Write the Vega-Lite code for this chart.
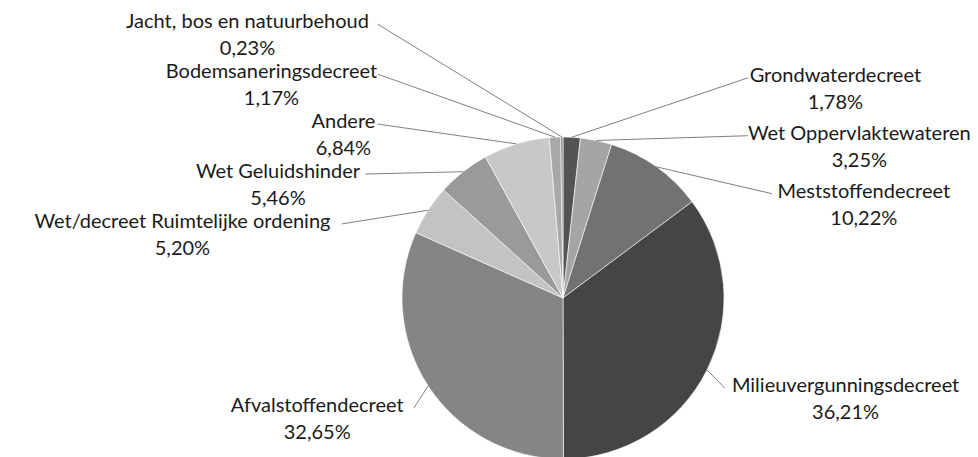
{
  "$schema": "https://vega.github.io/schema/vega-lite/v6.json",
  "width": 978,
  "height": 457,
  "autosize": {"type": "none"},
  "padding": 0,
  "background": "white",
  "config": {"view": {"stroke": null}},
  "data": {
    "values": [
      {"idx": 1, "category": "Grondwaterdecreet", "value": 1.78},
      {"idx": 2, "category": "Wet Oppervlaktewateren", "value": 3.25},
      {"idx": 3, "category": "Meststoffendecreet", "value": 10.22},
      {"idx": 4, "category": "Milieuvergunningsdecreet", "value": 36.21},
      {"idx": 5, "category": "Afvalstoffendecreet", "value": 32.65},
      {"idx": 6, "category": "Wet/decreet Ruimtelijke ordening", "value": 5.20},
      {"idx": 7, "category": "Wet Geluidshinder", "value": 5.46},
      {"idx": 8, "category": "Andere", "value": 6.84},
      {"idx": 9, "category": "Bodemsaneringsdecreet", "value": 1.17},
      {"idx": 10, "category": "Jacht, bos en natuurbehoud", "value": 0.23}
    ]
  },
  "transform": [
    {"joinaggregate": [{"op": "sum", "field": "value", "as": "total"}]},
    {"window": [{"op": "sum", "field": "value", "as": "cum"}], "sort": [{"field": "idx"}], "frame": [null, 0]},
    {"calculate": "2*PI*(datum.cum - datum.value/2)/datum.total", "as": "a"},
    {"calculate": "sin(datum.a) >= 0 ? 1 : -1", "as": "side"},
    {"calculate": "datum.side < 0 ? 0.31 : 0.36", "as": "gap"},
    {"calculate": "1.25*cos(datum.a)", "as": "ynat"},
    {"calculate": "datum.ynat + (datum.ynat > 0 ? (datum.side < 0 ? 0.45 : 0.12) * datum.ynat / 1.25 : 0)", "as": "ylift"},
    {"window": [{"op": "row_number", "as": "rn"}], "groupby": ["side"], "sort": [{"field": "ynat", "order": "descending"}]},
    {"calculate": "datum.ylift + (datum.rn - 1)*datum.gap", "as": "t"},
    {"window": [{"op": "min", "field": "t", "as": "tmin"}], "groupby": ["side"], "sort": [{"field": "ynat", "order": "descending"}], "frame": [null, 0]},
    {"calculate": "datum.tmin - (datum.rn - 1)*datum.gap", "as": "ly"},
    {"calculate": "datum.side * (datum.ly >= 0 ? max(1.15, sqrt(max(0, 1.45*1.45 - datum.ly*datum.ly))) : max(0.5, sqrt(max(0, 1.15*1.15 - datum.ly*datum.ly))))", "as": "lx"},
    {"calculate": "sin(datum.a)", "as": "ex"},
    {"calculate": "cos(datum.a)", "as": "ey"},
    {"calculate": "datum.lx + datum.side*(0.035 + length(datum.category)*0.0596/2)", "as": "tx"},
    {"calculate": "datum.category + '\\n' + replace(format(datum.value, '.2f'), '.', ',') + '%'", "as": "label"}
  ],
  "layer": [
    {
      "mark": {"type": "arc", "outerRadius": 161, "stroke": "#ffffff", "strokeWidth": 0.6},
      "encoding": {
        "x": {"datum": 0, "type": "quantitative", "scale": {"domain": [-3.4969, 2.5776], "nice": false, "zero": false}, "axis": null},
        "y": {"datum": 0, "type": "quantitative", "scale": {"domain": [-0.9876, 1.8509], "nice": false, "zero": false}, "axis": null},
        "theta": {"field": "value", "type": "quantitative", "stack": true},
        "order": {"field": "idx", "type": "quantitative"},
        "color": {
          "field": "category",
          "type": "nominal",
          "legend": null,
          "scale": {
            "domain": ["Grondwaterdecreet", "Wet Oppervlaktewateren", "Meststoffendecreet", "Milieuvergunningsdecreet", "Afvalstoffendecreet", "Wet/decreet Ruimtelijke ordening", "Wet Geluidshinder", "Andere", "Bodemsaneringsdecreet", "Jacht, bos en natuurbehoud"],
            "range": ["#545454", "#a5a5a5", "#727272", "#454545", "#858585", "#c3c3c3", "#9a9a9a", "#c8c8c8", "#a8a8a8", "#8c8c8c"]
          }
        }
      }
    },
    {
      "mark": {"type": "rule", "color": "#808080", "strokeWidth": 1},
      "encoding": {
        "x": {"field": "ex", "type": "quantitative", "axis": null},
        "y": {"field": "ey", "type": "quantitative", "axis": null},
        "x2": {"field": "lx"},
        "y2": {"field": "ly"}
      }
    },
    {
      "mark": {"type": "text", "align": "center", "baseline": "top", "dy": -12, "lineBreak": "\n", "lineHeight": 27, "font": "Lato", "fontSize": 20, "color": "#1a1a1a"},
      "encoding": {
        "x": {"field": "tx", "type": "quantitative", "axis": null},
        "y": {"field": "ly", "type": "quantitative", "axis": null},
        "text": {"field": "label", "type": "nominal"}
      }
    }
  ]
}
